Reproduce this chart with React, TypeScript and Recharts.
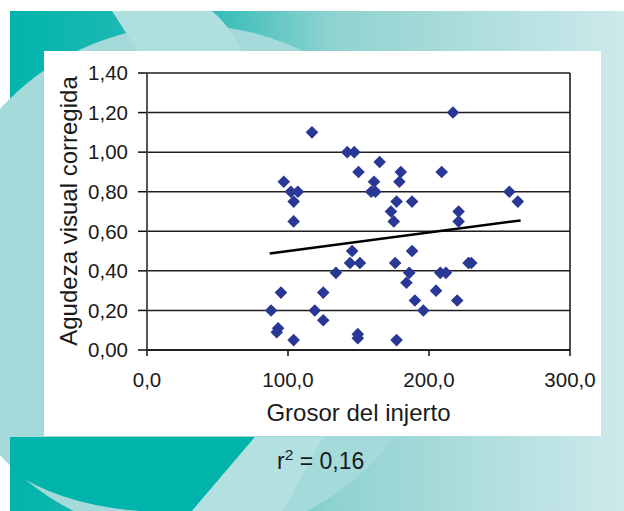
import React from 'react';
import { ScatterChart, Scatter, XAxis, YAxis, CartesianGrid, ReferenceLine } from 'recharts';

// Grosor del injerto (x) and Agudeza visual corregida (y)
const grosor = [88, 93, 92, 95, 97, 102, 107, 104, 104, 104, 117, 119, 125, 125, 134, 142, 147, 144, 145.5, 151, 150, 149.5, 149.5, 159, 162, 161, 165, 173, 175, 177, 176, 177, 180, 179, 188, 188, 186, 184, 190, 196, 205, 208, 212, 209, 217, 221, 221, 220, 228, 230, 257, 263];
const agudeza = [0.20, 0.11, 0.09, 0.29, 0.85, 0.80, 0.80, 0.75, 0.65, 0.05, 1.10, 0.20, 0.29, 0.15, 0.39, 1.00, 1.00, 0.44, 0.50, 0.44, 0.90, 0.08, 0.06, 0.80, 0.80, 0.85, 0.95, 0.70, 0.65, 0.75, 0.44, 0.05, 0.90, 0.85, 0.75, 0.50, 0.39, 0.34, 0.25, 0.20, 0.30, 0.39, 0.39, 0.90, 1.20, 0.70, 0.65, 0.25, 0.44, 0.44, 0.80, 0.75];

// Regression line end points
const trendX = [87, 265];
const trendY = [0.488, 0.655];

const xTicks = [0, 100, 200, 300];
const yTicks = [0, 0.2, 0.4, 0.6, 0.8, 1.0, 1.2, 1.4];

const xTitle = 'Grosor del injerto';
const yTitle = 'Agudeza visual corregida';
const r2Label = '0,16';

const points = grosor.map((g, i) => ({ x: g, y: agudeza[i] }));
const FONT = '"Liberation Sans", Arial, Helvetica, sans-serif';

const Diamond = (props: any) => {
  const { cx, cy } = props;
  if (cx == null || cy == null) return <g />;
  const r = 6.3;
  return (
    <polygon
      points={`${cx},${cy - r} ${cx + r},${cy} ${cx},${cy + r} ${cx - r},${cy}`}
      fill="#2a3895"
    />
  );
};

const Background = () => (
  <svg width={624} height={511} style={{ position: 'absolute', left: 0, top: 0 }}>
    <defs>
      <linearGradient id="bg" x1="10" y1="0" x2="624" y2="0" gradientUnits="userSpaceOnUse">
        <stop offset="0" stopColor="#00b4ac" />
        <stop offset="0.33" stopColor="#33bdb7" />
        <stop offset="0.52" stopColor="#8ed2cf" />
        <stop offset="1" stopColor="#cee9eb" />
      </linearGradient>
    </defs>
    <rect x={10} y={11} width={614} height={500} fill="url(#bg)" />
    <circle cx={190} cy={282} r={257} fill="#a4dad9" />
    <path d="M112,11 L212,11 Q235,30 250,70 L150,70 Z" fill="#b0dfdf" />
    <path d="M10,437 L255,437 L192,511 L140,511 Q60,505 10,470 Z" fill="#00b4ac" />
    <path d="M255,437 L323,437 L283,511 L192,511 Z" fill="#b3e0e0" />
  </svg>
);

export default function App() {
  return (
    <div style={{ position: 'absolute', left: 0, top: 0, width: 624, height: 511, background: '#ffffff', overflow: 'hidden' }}>
      <Background />
      <div style={{ position: 'absolute', left: 44, top: 51, width: 557, height: 385, background: '#ffffff' }} />
      <div style={{ position: 'absolute', left: 0, top: 0 }}>
        <ScatterChart
          width={624}
          height={511}
          margin={{ top: 73, right: 54, bottom: 121, left: 87 }}
          style={{ fontFamily: FONT }}
        >
          <CartesianGrid vertical={false} stroke="#1e1e1e" strokeWidth={1.5} />
          <XAxis
            type="number"
            dataKey="x"
            domain={[0, 300]}
            ticks={xTicks}
            height={40}
            tickSize={6}
            tickMargin={16}
            tickFormatter={(v: number) => v.toFixed(1).replace('.', ',')}
            tick={{ fill: '#1a1a1a', fontSize: 20.5, fontFamily: FONT }}
            axisLine={{ stroke: '#111', strokeWidth: 1.5 }}
            tickLine={{ stroke: '#111', strokeWidth: 1.5 }}
          />
          <YAxis
            type="number"
            dataKey="y"
            domain={[0, 1.4]}
            ticks={yTicks}
            width={60}
            tickSize={9}
            tickMargin={10}
            tickFormatter={(v: number) => v.toFixed(2).replace('.', ',')}
            tick={{ fill: '#1a1a1a', fontSize: 20.5, fontFamily: FONT }}
            axisLine={{ stroke: '#555', strokeWidth: 2 }}
            tickLine={{ stroke: '#111', strokeWidth: 1.5 }}
          />
          <ReferenceLine x={300} stroke="#111" strokeWidth={1.5} />
          <ReferenceLine
            segment={[{ x: trendX[0], y: trendY[0] }, { x: trendX[1], y: trendY[1] }]}
            stroke="#000"
            strokeWidth={2.5}
          />
          <Scatter data={points} shape={Diamond} isAnimationActive={false} />
        </ScatterChart>
      </div>
      <svg width={624} height={511} style={{ position: 'absolute', left: 0, top: 0, pointerEvents: 'none' }}>
        <text
          x={77}
          y={211}
          transform="rotate(-90, 77, 211)"
          textAnchor="middle"
          fontFamily={FONT}
          fontSize={24}
          fill="#1a1a1a"
        >
          {yTitle}
        </text>
        <text x={358.5} y={421} textAnchor="middle" fontFamily={FONT} fontSize={24} fill="#1a1a1a">
          {xTitle}
        </text>
        <text x={277} y={469} fontFamily={FONT} fontSize={23} fill="#1a1a1a">
          r<tspan fontSize={15.5} dy={-9}>2</tspan>
          <tspan dy={9}>{' = ' + r2Label}</tspan>
        </text>
      </svg>
    </div>
  );
}
